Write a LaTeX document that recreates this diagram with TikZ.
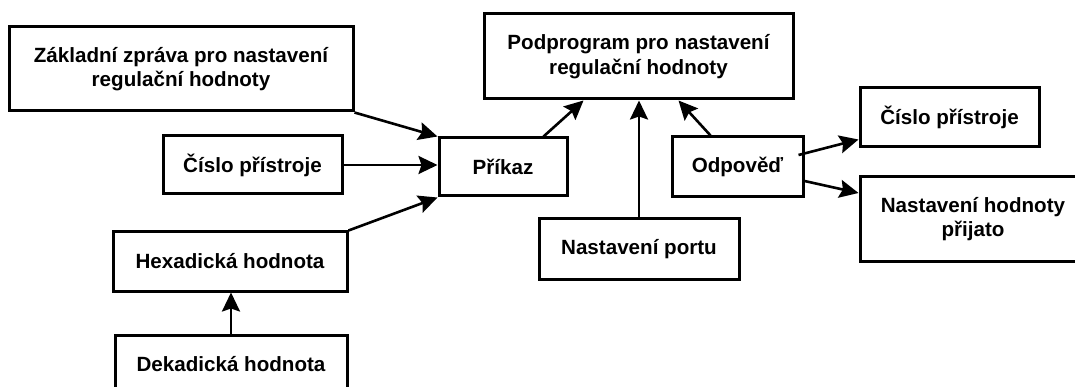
\documentclass[tikz,border=0pt]{standalone}
\usepackage{fontspec}
\setmainfont{Liberation Sans}
\usetikzlibrary{arrows.meta}

\begin{document}
\begin{tikzpicture}[x=1pt, y=-1pt,
        blok/.style={draw, line width=3pt, inner sep=0pt, align=center,
            font=\fontsize{20.6}{24.5}\selectfont\bfseries},
        sipka/.style={line width=2.6pt, -{Stealth[length=19pt, width=18pt, inset=3pt]}}]
        \useasboundingbox (0,0) rectangle (1075,387);

        % Vstupy
        \node[blok, minimum width=344pt, minimum height=84pt] (zakl) at (181,69)
            {Základní zpráva pro nastavení\\regulační hodnoty};
        \node[blok, minimum width=179pt, minimum height=58pt] (cislo1) at (252.5,165)
            {Číslo přístroje};
        \node[blok, minimum width=234pt, minimum height=59pt] (hexa) at (230,261.5)
            {Hexadická hodnota};
        \node[blok, minimum width=232pt, minimum height=59pt] (deka) at (231,364.5)
            {Dekadická hodnota};

        % Prikaz a podprogram
        \node[blok, minimum width=128pt, minimum height=58pt] (prikaz) at (503,167)
            {Příkaz};
        \node[blok, minimum width=309pt, minimum height=85pt] (podprog) at (638.5,56.5)
            {Podprogram pro nastavení\\regulační hodnoty};
        \node[blok, minimum width=200pt, minimum height=60pt] (port) at (639,249)
            {Nastavení portu};

        % Odpoved
        \node[blok, minimum width=131pt, minimum height=60pt] (odpoved) at (737.5,167)
            {Odpověď};
        \node[blok, minimum width=179pt, minimum height=59pt] (cislo2) at (949.5,117.5)
            {Číslo přístroje};
        \node[blok, minimum width=226pt, minimum height=84pt] (prijato) at (973,219)
            {Nastavení hodnoty\\přijato};

        % Sipky
        \draw[sipka] (zakl.south east) -- (prikaz.north west);
        \draw[sipka] (cislo1.east) -- (cislo1.east -| prikaz.west);
        \draw[sipka] (hexa.north east) -- (prikaz.south west);
        \draw[sipka] (deka.north) -- (deka.north |- hexa.south);
        \draw[sipka] ([xshift=-25pt]prikaz.north east) -- ([xshift=-55pt]podprog.south);
        \draw[sipka] (port.north) -- (port.north |- podprog.south);
        \draw[sipka] ([xshift=-27pt]odpoved.north) -- ([xshift=40pt]podprog.south);
        \draw[sipka] ([xshift=-6pt, yshift=12pt]odpoved.east) -- ([yshift=-22pt]cislo2.west);
        \draw[sipka] ([yshift=-14pt]odpoved.east) -- ([yshift=26pt]prijato.west);
    \end{tikzpicture}
\end{document}
